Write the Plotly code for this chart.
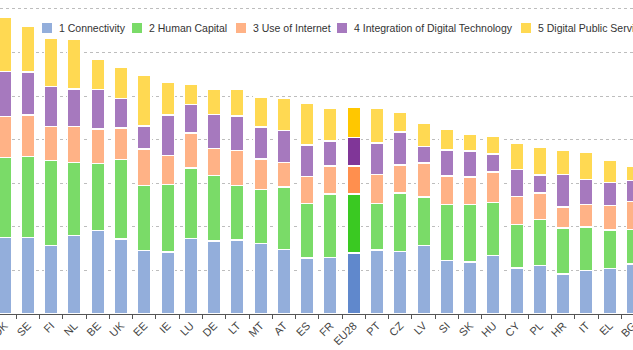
import plotly.graph_objects as go

countries = ["DK", "SE", "FI", "NL", "BE", "UK", "EE", "IE", "LU", "DE", "LT", "MT", "AT", "ES",
             "FR", "EU28", "PT", "CZ", "LV", "SI", "SK", "HU", "CY", "PL", "HR", "IT", "EL", "BG"]

connectivity = [0.176, 0.175, 0.157, 0.180, 0.192, 0.172, 0.146, 0.142, 0.173, 0.167, 0.170, 0.162, 0.148, 0.128,
                0.130, 0.140, 0.147, 0.143, 0.157, 0.123, 0.119, 0.134, 0.105, 0.111, 0.092, 0.100, 0.104, 0.115]
human_capital = [0.183, 0.186, 0.195, 0.167, 0.153, 0.182, 0.149, 0.155, 0.162, 0.151, 0.125, 0.123, 0.143, 0.126,
                 0.145, 0.135, 0.106, 0.135, 0.111, 0.128, 0.132, 0.122, 0.100, 0.106, 0.105, 0.099, 0.089, 0.079]
use_of_internet = [0.094, 0.096, 0.078, 0.083, 0.079, 0.073, 0.083, 0.067, 0.080, 0.062, 0.080, 0.070, 0.056, 0.061,
                   0.065, 0.065, 0.067, 0.064, 0.078, 0.065, 0.063, 0.070, 0.065, 0.061, 0.048, 0.052, 0.056, 0.064]
integration = [0.103, 0.098, 0.092, 0.086, 0.091, 0.067, 0.053, 0.092, 0.065, 0.078, 0.079, 0.074, 0.074, 0.073,
               0.057, 0.065, 0.072, 0.076, 0.038, 0.060, 0.060, 0.041, 0.062, 0.041, 0.075, 0.057, 0.053, 0.048]
public_services = [0.125, 0.106, 0.111, 0.115, 0.069, 0.071, 0.116, 0.076, 0.047, 0.057, 0.061, 0.069, 0.074, 0.095,
                   0.076, 0.069, 0.081, 0.044, 0.053, 0.047, 0.038, 0.040, 0.060, 0.063, 0.055, 0.063, 0.051, 0.034]

series_names = ["1 Connectivity", "2 Human Capital", "3 Use of Internet",
                "4 Integration of Digital Technology", "5 Digital Public Services"]
series_values = [connectivity, human_capital, use_of_internet, integration, public_services]
base_colors = ["#93AEDB", "#7ADB68", "#FFB286", "#A679BE", "#FFD952"]
highlight_colors = ["#6088CC", "#3AC922", "#FF8F4E", "#803698", "#FFC700"]
highlight = "EU28"

fig = go.Figure()
for name, vals, c, hc in zip(series_names, series_values, base_colors, highlight_colors):
    colors = [hc if k == highlight else c for k in countries]
    fig.add_trace(go.Bar(
        x=countries, y=vals, name=name, showlegend=False,
        marker=dict(color=colors, line=dict(color="white", width=1.5)),
    ))

# Manual legend (items clipped at the right edge like the reference)
W, H_PLOT = 633, 314
legend_sq_x = [42, 132, 236, 337, 521]
legend_y = 28
shapes = []
annotations = []
for sx, name, c in zip(legend_sq_x, series_names, base_colors):
    shapes.append(dict(type="rect", xref="paper", yref="paper",
                       x0=sx / W, x1=(sx + 10) / W,
                       y0=1 - (legend_y + 5) / H_PLOT, y1=1 - (legend_y - 5) / H_PLOT,
                       fillcolor=c, line=dict(width=0), layer="above"))
    annotations.append(dict(text=name, xref="paper", yref="paper",
                            x=(sx + 15) / W, y=1 - legend_y / H_PLOT,
                            xanchor="left", yanchor="middle", showarrow=False,
                            font=dict(size=10.5, color="#333333")))

fig.update_layout(
    template="none",
    width=633, height=350,
    margin=dict(l=0, r=0, t=0, b=36, pad=0, autoexpand=False),
    paper_bgcolor="white", plot_bgcolor="white",
    barmode="stack", bargap=0.42,
    font=dict(family="Liberation Sans, Arial, Helvetica, sans-serif", size=11, color="#444444"),
    shapes=shapes, annotations=annotations,
    xaxis=dict(range=[-0.2, 27.0], tickangle=-45, showline=True, linecolor="#555555", linewidth=1,
               ticks="outside", tickson="boundaries", ticklen=4, tickcolor="#555555",
               showgrid=False, automargin=False, tickfont=dict(size=11, color="#444444")),
    yaxis=dict(range=[0, 0.7202], showticklabels=False, showline=False, zeroline=False,
               showgrid=True, gridcolor="#bdbdbd", gridwidth=1, griddash="3px,3px",
               dtick=0.1, tick0=0, automargin=False),
)

fig.write_html("out.html")
